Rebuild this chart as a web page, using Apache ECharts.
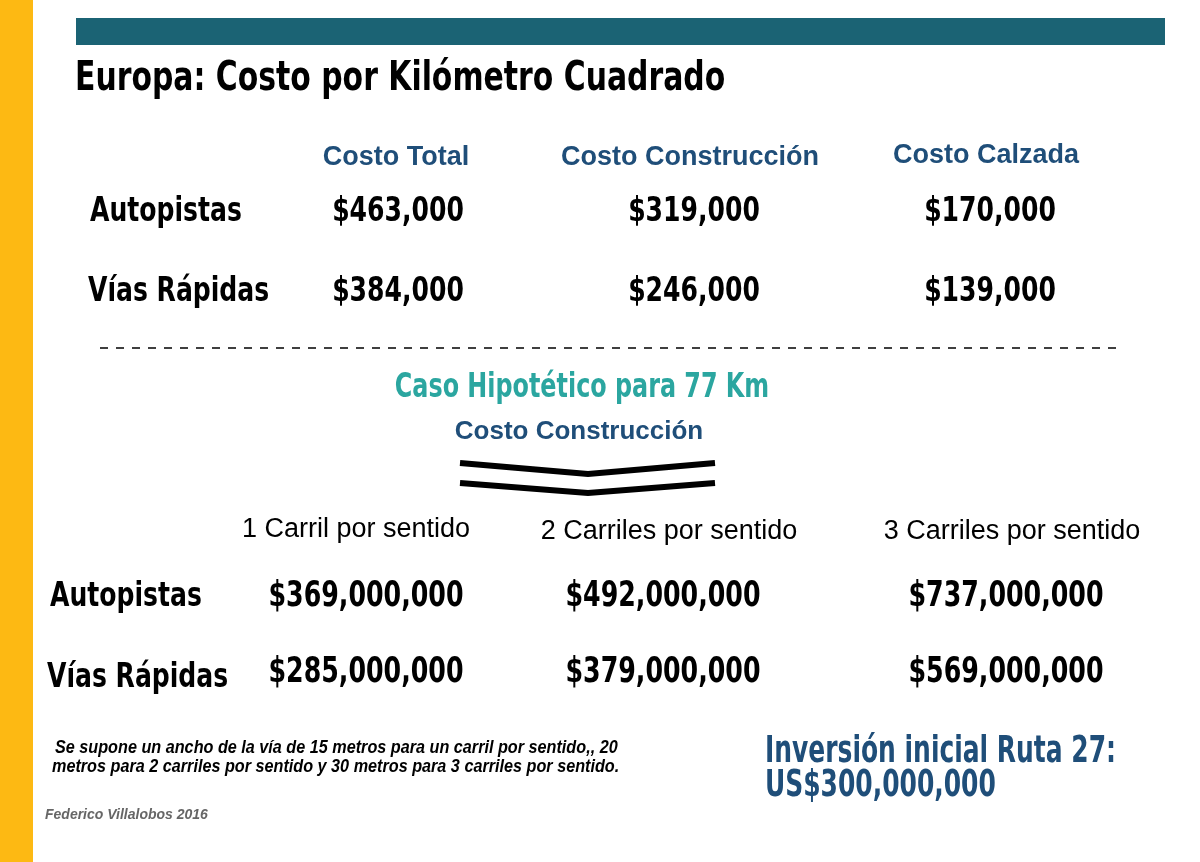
<!DOCTYPE html>
<html><head><meta charset="utf-8">
<script src="https://cdn.jsdelivr.net/npm/echarts@6/dist/echarts.min.js"></script>
<style>html,body{margin:0;padding:0;background:#fff}#c{width:1200px;height:862px}</style>
</head><body><div id="c"></div>
<script>
var title = 'Europa: Costo por Kilómetro Cuadrado';
var rowLabels = ['Autopistas', 'Vías Rápidas'];
var kmHeaders = ['Costo Total', 'Costo Construcción', 'Costo Calzada'];
var kmValues = [['$463,000', '$319,000', '$170,000'], ['$384,000', '$246,000', '$139,000']];
var caseTitle = 'Caso Hipotético para 77 Km';
var caseSub = 'Costo Construcción';
var laneHeaders = ['1 Carril por sentido', '2 Carriles por sentido', '3 Carriles por sentido'];
var laneValues = [['$369,000,000', '$492,000,000', '$737,000,000'], ['$285,000,000', '$379,000,000', '$569,000,000']];
var footnote = ['Se supone un ancho de la vía de 15 metros para un carril por sentido,, 20', 'metros para 2 carriles por sentido y 30 metros para 3 carriles por sentido.'];
var investment = ['Inversión inicial Ruta 27:', 'US$300,000,000'];
var credit = 'Federico Villalobos 2016';

var narrow = '"DejaVu Sans Condensed", sans-serif';
var arial = 'Arial, "Liberation Sans", sans-serif';
var blue = '#1F4E79';
var g = [];
function txt(x, y, s, font, color, align, sx) {
  g.push({type: 'text', x: x, y: y, scaleX: sx || 1, style: {text: s, font: font, fill: color || '#000', textAlign: align || 'left', textVerticalAlign: 'middle'}});
}
g.push({type: 'rect', shape: {x: 0, y: 0, width: 33, height: 862}, style: {fill: '#FDB913'}});
g.push({type: 'rect', shape: {x: 76, y: 18, width: 1089, height: 27}, style: {fill: '#1B6374'}});
txt(75, 80, title, 'bold 40px ' + narrow, '#000', 'left', 0.83);

var kmX = [396, 690, 986];
var kmHY = [158, 158, 156];
kmHeaders.forEach(function (h, i) { txt(kmX[i], kmHY[i], h, 'bold 27px ' + arial, blue, 'center'); });
var kmY = [212, 292];
var kmLX = [90, 88];
rowLabels.forEach(function (r, j) {
  txt(kmLX[j], kmY[j], r, 'bold 34px ' + narrow, '#000', 'left', 0.82);
  kmValues[j].forEach(function (v, i) { txt(kmX[i] + (i === 0 ? 2 : 4), kmY[j], v, 'bold 34px ' + narrow, '#000', 'center', 0.82); });
});

g.push({type: 'line', shape: {x1: 100, y1: 348, x2: 1122, y2: 348}, style: {stroke: '#000', lineWidth: 1.5, lineDash: [8, 8]}});
txt(582, 388, caseTitle, 'bold 34px ' + narrow, '#2BA6A0', 'center', 0.78);
txt(579, 432, caseSub, 'bold 26px ' + arial, blue, 'center');
g.push({type: 'polyline', shape: {points: [[460, 463], [588, 474], [715, 463]]}, style: {stroke: '#000', lineWidth: 6, fill: null}});
g.push({type: 'polyline', shape: {points: [[460, 483], [588, 493], [715, 483]]}, style: {stroke: '#000', lineWidth: 6, fill: null}});

var lnX = [356, 669, 1012];
var lnHY = [530, 532, 532];
laneHeaders.forEach(function (h, i) { txt(lnX[i], lnHY[i], h, '27px ' + arial, '#000', 'center'); });
var lnVX = [366, 663, 1006];
var lnY = [597, 673];
var lnLX = [50, 47];
var lnLY = [597, 678];
rowLabels.forEach(function (r, j) {
  txt(lnLX[j], lnLY[j], r, 'bold 34px ' + narrow, '#000', 'left', 0.82);
  laneValues[j].forEach(function (v, i) { txt(lnVX[i], lnY[j], v, 'bold 36px ' + narrow, '#000', 'center', 0.78); });
});

txt(55, 748, footnote[0], 'italic bold 18px ' + arial, '#000', 'left', 0.9);
txt(52, 767, footnote[1], 'italic bold 18px ' + arial, '#000', 'left', 0.9);
txt(765, 752, investment[0], 'bold 38px ' + narrow, blue, 'left', 0.73);
txt(765, 786, investment[1], 'bold 38px ' + narrow, blue, 'left', 0.73);
txt(45, 815, credit, 'italic bold 14px ' + arial, '#666');

var chart = echarts.init(document.getElementById('c'));
chart.setOption({animation: false, graphic: g});
</script></body></html>
